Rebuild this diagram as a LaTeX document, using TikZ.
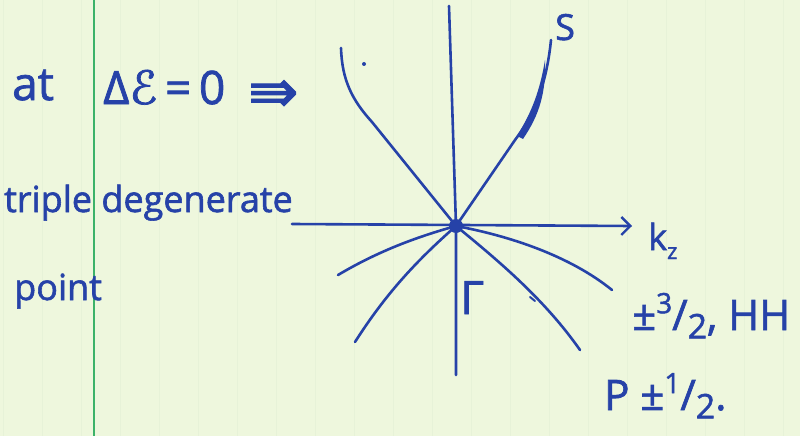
\documentclass[tikz,border=0pt]{standalone}
\usepackage{fontspec}
\setmainfont{Open Sans}[FakeBold=1.6]
\newfontfamily\symfnt{DejaVu Sans}[FakeBold=1.6]
\usetikzlibrary{arrows.meta}
\definecolor{paper}{RGB}{238,247,221}
\definecolor{gridln}{RGB}{231,242,216}
\definecolor{ink}{RGB}{38,66,168}
\definecolor{margin}{RGB}{60,178,105}
\newcommand{\hand}{\fontsize{36}{40}\selectfont}
\newcommand{\handbig}{\fontsize{46}{50}\selectfont}
\newcommand{\fr}[2]{\raisebox{0.4em}{\fontsize{28}{30}\selectfont #1}/\raisebox{-0.2em}{\fontsize{34}{36}\selectfont #2}}

\begin{document}
\begin{tikzpicture}[x=1pt,y=-1pt,line cap=round,
  band/.style={ink,line width=2.6pt},
  lbl/.style={ink,font=\hand,inner sep=0pt}]
\useasboundingbox (0,0) rectangle (800,436);
\fill[paper] (0,0) rectangle (800,436);
\draw[gridln,line width=0.8pt,shift={(3,8)}] (-3,-8) grid[step=39] (800,436);
\draw[margin,line width=2pt] (94,0) -- (94,436);
\node[lbl,font=\handbig,anchor=base west] (at) at (12,100) {at};
\node[lbl,font=\handbig,anchor=base west] (cond) at (103,104) {Δ{\symfnt ℰ}\,=\,0};
\node[lbl,font=\fontsize{60}{60}\selectfont\symfnt,anchor=base west] (impl) at (248,112) {⇛};
\node[lbl,anchor=base west] (trip) at (4,212) {triple degenerate};
\node[lbl,anchor=base west] (pt) at (14,300) {point};
\node[circle,fill=ink,inner sep=0pt,minimum size=14pt] (O) at (456,226) {};
\coordinate (top) at (449,6);
\coordinate (bot) at (456,375);
\coordinate (lft) at (292,224);
\coordinate (rgt) at (632,226);
\coordinate (sl) at (341,48);
\coordinate (sr) at (551,40);
\coordinate (hl) at (338,275);
\coordinate (ll) at (355,342);
\coordinate (hr) at (612,290);
\coordinate (lr) at (580,350);
\draw[band] (top) -- (O.center) -- (bot);
\draw[band,-{Straight Barb[length=9pt,width=18pt,line width=2.4pt]}] (lft) -- (rgt);
\draw[band] (O.center) -- (372,122) .. controls (352,100) and (342,80) .. (sl);
\draw[band] (O.center) -- (515,140) .. controls (536,112) and (547,80) .. (sr);
\fill[ink] (517,136) .. controls (532,112) and (540,90) .. (545,60) .. controls (546,92) and (540,114) .. (523,139) -- cycle;
\fill[ink] (364,64) circle (2pt);
\draw[band] (O.center) .. controls (420,236) and (380,250) .. (hl);
\draw[band] (O.center) .. controls (415,262) and (385,295) .. (ll);
\draw[band] (O.center) .. controls (510,236) and (570,256) .. (hr);
\draw[band] (O.center) .. controls (500,262) and (545,300) .. (lr);
\draw[ink,line width=2pt] (530,297) -- (535,301);
\node[lbl,anchor=base west] (S) at (555,40) {S};
\node[lbl,anchor=base west] (kz) at (648,250) {k\raisebox{-0.25em}{\fontsize{22}{24}\selectfont z}};
\node[lbl,font=\handbig,anchor=base west] (Gam) at (460,314) {Γ};
\node[lbl,font=\fontsize{42}{46}\selectfont,anchor=base west] (hh) at (632,330) {±\fr{3}{2}, HH};
\node[lbl,font=\fontsize{42}{46}\selectfont,anchor=base west] (lh) at (604,410) {P ±\fr{1}{2}.};
\end{tikzpicture}
\end{document}
